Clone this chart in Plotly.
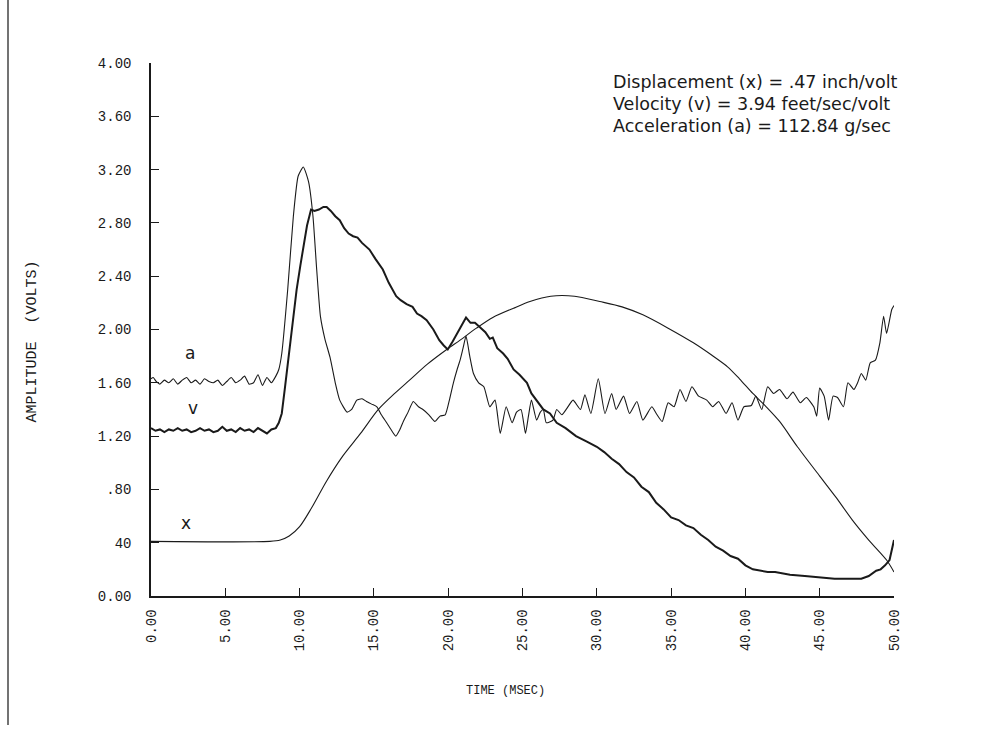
import plotly.graph_objects as go

# ---------------- data ----------------
t_a = [0.0, 0.15, 0.35, 0.6, 0.9, 1.2, 1.5, 1.8, 2.1, 2.4,
       2.7, 3.0, 3.3, 3.6, 3.9, 4.2, 4.5, 4.8, 5.1, 5.4,
       5.7, 6.0, 6.3, 6.6, 6.9, 7.2, 7.5, 7.8, 8.1, 8.4,
       8.6, 8.8, 9.2, 9.58, 9.9, 10.25, 10.6, 10.9, 11.15, 11.4,
       11.7, 12.05, 12.4, 12.7, 13.2, 13.5, 13.85, 14.2, 14.5, 14.85,
       15.2, 15.5, 15.86, 16.2, 16.47, 16.75, 16.98, 17.3, 17.65, 18.0,
       18.3, 18.7, 19.1, 19.45, 19.8, 20.1, 20.35, 20.6, 20.8, 21.0,
       21.2, 21.45, 21.7, 22.05, 22.4, 22.8, 23.15, 23.5, 23.9, 24.3,
       24.6, 24.9, 25.2, 25.4, 25.6, 25.95, 26.2, 26.4, 26.6, 27.05,
       27.3, 27.65, 28.0, 28.4, 28.9, 29.2, 29.6, 30.1, 30.55, 31.0,
       31.3, 31.8, 32.2, 32.7, 33.1, 33.7, 34.0, 34.4, 34.8, 35.2,
       35.6, 36.0, 36.4, 36.85, 37.4, 37.8, 38.2, 38.7, 39.1, 39.5,
       39.9, 40.4, 40.7, 41.1, 41.5, 41.9, 42.3, 42.8, 43.2, 43.7,
       44.1, 44.6, 44.8, 45.0, 45.3, 45.6, 45.9, 46.2, 46.6, 46.9,
       47.3, 47.55, 47.8, 48.1, 48.4, 48.75, 49.05, 49.3, 49.5, 49.85,
       50.0]
a_vals = [1.63, 1.64, 1.61, 1.59, 1.62, 1.60, 1.63, 1.59, 1.62, 1.64,
          1.60, 1.62, 1.59, 1.63, 1.61, 1.60, 1.62, 1.58, 1.61, 1.64,
          1.60, 1.62, 1.65, 1.59, 1.60, 1.66, 1.58, 1.64, 1.60, 1.65,
          1.70, 1.82, 2.30, 2.85, 3.15, 3.22, 3.11, 2.85, 2.45, 2.10,
          1.93, 1.79, 1.60, 1.47, 1.38, 1.40, 1.47, 1.48, 1.46, 1.44,
          1.42, 1.36, 1.30, 1.24, 1.20, 1.25, 1.31, 1.38, 1.46, 1.42,
          1.40, 1.36, 1.31, 1.35, 1.36, 1.48, 1.60, 1.70, 1.77, 1.86,
          1.95, 1.80, 1.67, 1.60, 1.57, 1.42, 1.47, 1.22, 1.42, 1.30,
          1.38, 1.40, 1.22, 1.35, 1.47, 1.32, 1.38, 1.40, 1.30, 1.32,
          1.40, 1.36, 1.41, 1.47, 1.40, 1.51, 1.37, 1.63, 1.37, 1.52,
          1.40, 1.50, 1.37, 1.46, 1.32, 1.42, 1.37, 1.31, 1.45, 1.42,
          1.55, 1.46, 1.57, 1.50, 1.47, 1.42, 1.46, 1.37, 1.45, 1.32,
          1.42, 1.43, 1.50, 1.40, 1.57, 1.52, 1.55, 1.48, 1.53, 1.45,
          1.49, 1.42, 1.35, 1.56, 1.50, 1.32, 1.50, 1.49, 1.42, 1.60,
          1.55, 1.60, 1.67, 1.62, 1.75, 1.77, 1.90, 2.10, 1.97, 2.15,
          2.18]

t_v = [0.0, 0.3, 0.6, 0.9, 1.2, 1.5, 1.8, 2.1, 2.4, 2.7,
       3.0, 3.3, 3.6, 3.9, 4.2, 4.5, 4.8, 5.1, 5.4, 5.7,
       6.0, 6.3, 6.6, 6.9, 7.2, 7.5, 7.8, 8.1, 8.4, 8.6,
       8.8, 9.0, 9.24, 9.5, 9.8, 10.05, 10.25, 10.5, 10.77, 11.0,
       11.3, 11.6, 11.82, 12.1, 12.4, 12.7, 13.0, 13.3, 13.6, 13.9,
       14.2, 14.7, 15.1, 15.6, 16.0, 16.5, 16.8, 17.2, 17.6, 17.9,
       18.2, 18.55, 19.0, 19.4, 19.7, 19.97, 20.3, 20.6, 20.9, 21.2,
       21.5, 21.8, 22.1, 22.5, 22.8, 23.0, 23.3, 23.7, 24.0, 24.4,
       24.8, 25.3, 25.6, 25.95, 26.4, 26.85, 27.3, 27.9, 28.6, 29.3,
       30.0, 30.5, 31.0, 31.5, 32.0, 32.5, 33.0, 33.5, 34.0, 34.5,
       35.0, 35.5, 36.0, 36.5, 37.0, 37.5, 38.0, 38.5, 39.0, 39.5,
       40.0, 40.5, 41.0, 41.5, 42.0, 43.0, 44.0, 45.0, 46.0, 47.0,
       47.8, 48.3, 48.8, 49.1, 49.4, 49.7, 49.85, 50.0]
v_vals = [1.26, 1.24, 1.25, 1.23, 1.25, 1.24, 1.26, 1.24, 1.25, 1.23,
          1.24, 1.26, 1.24, 1.25, 1.23, 1.24, 1.27, 1.24, 1.25, 1.23,
          1.26, 1.24, 1.25, 1.23, 1.26, 1.24, 1.22, 1.25, 1.26, 1.30,
          1.37, 1.55, 1.77, 2.05, 2.30, 2.48, 2.60, 2.78, 2.90, 2.89,
          2.90, 2.92, 2.92, 2.89, 2.85, 2.82, 2.76, 2.72, 2.70, 2.69,
          2.65, 2.60, 2.53, 2.45, 2.35, 2.25, 2.22, 2.19, 2.17, 2.12,
          2.10, 2.07, 2.00, 1.92, 1.88, 1.85, 1.91, 1.97, 2.03, 2.09,
          2.05, 2.05, 2.02, 1.98, 1.93, 1.94, 1.86, 1.82, 1.78, 1.70,
          1.66, 1.60, 1.52, 1.47, 1.40, 1.37, 1.30, 1.26, 1.20, 1.16,
          1.12, 1.08, 1.03, 0.99, 0.93, 0.89, 0.82, 0.78, 0.70, 0.65,
          0.59, 0.57, 0.53, 0.51, 0.46, 0.42, 0.37, 0.34, 0.30, 0.28,
          0.23, 0.20, 0.19, 0.18, 0.18, 0.16, 0.15, 0.14, 0.13, 0.13,
          0.13, 0.15, 0.19, 0.20, 0.23, 0.27, 0.34, 0.42]

t_x = [0.0, 8.0, 8.7, 9.3, 10.0, 10.8, 11.8, 12.9, 14.1, 15.3,
       16.4, 17.4, 18.6, 19.9, 20.8, 21.9, 23.0, 24.4, 25.5, 26.9,
       28.5, 30.2, 31.7, 33.1, 34.8, 36.5, 37.7, 38.8, 39.6, 40.5,
       41.4, 42.3, 43.5, 45.0, 46.1, 47.2, 48.3, 49.5, 50.0]
x_vals = [0.41, 0.41, 0.42, 0.45, 0.52, 0.66, 0.86, 1.05, 1.22, 1.40,
          1.52, 1.62, 1.74, 1.85, 1.92, 2.01, 2.09, 2.16, 2.21, 2.25,
          2.25, 2.21, 2.17, 2.11, 2.01, 1.90, 1.81, 1.72, 1.63, 1.52,
          1.42, 1.31, 1.12, 0.90, 0.74, 0.57, 0.42, 0.27, 0.18]

y_ticks = [0.0, 0.4, 0.8, 1.2, 1.6, 2.0, 2.4, 2.8, 3.2, 3.6, 4.0]
y_ticktext = ["0.00", "40", ".80", "1.20", "1.60", "2.00", "2.40", "2.80", "3.20", "3.60", "4.00"]
x_ticks = [0, 5, 10, 15, 20, 25, 30, 35, 40, 45, 50]
x_ticktext = ["0.00", "5.00", "10.00", "15.00", "20.00", "25.00", "30.00", "35.00", "40.00", "45.00", "50.00"]

curve_labels = ["a", "v", "x"]
label_t = [2.62, 2.83, 2.36]
label_v = [1.82, 1.41, 0.55]

info_lines = ["Displacement (x) = .47 inch/volt",
              "Velocity (v) = 3.94 feet/sec/volt",
              "Acceleration (a) = 112.84 g/sec"]

# ---------------- figure ----------------
INK = "#1a1a1a"
W, H = 981, 740
L, R, T, B = 151, 87, 63, 144
pw, ph = W - L - R, H - T - B

def px_x(px):
    return (px - L) / pw

def px_y(py):
    return (H - B - py) / ph

fig = go.Figure()
fig.add_trace(go.Scatter(x=t_x, y=x_vals, mode="lines", name="x",
                         line=dict(color=INK, width=1.1, shape="spline", smoothing=0.8)))
fig.add_trace(go.Scatter(x=t_a, y=a_vals, mode="lines", name="a",
                         line=dict(color=INK, width=1.1, shape="spline", smoothing=0.5)))
fig.add_trace(go.Scatter(x=t_v, y=v_vals, mode="lines", name="v",
                         line=dict(color=INK, width=2.0)))

mono = "Liberation Mono"
sans = "DejaVu Sans"

annotations = []
for lab, tx, vy in zip(curve_labels, label_t, label_v):
    annotations.append(dict(x=tx, y=vy, xref="x", yref="y", text=lab, showarrow=False,
                            font=dict(family=sans, size=17, color=INK)))
for i, line in enumerate(info_lines):
    annotations.append(dict(x=px_x(611), y=px_y(82 + 22 * i), xref="paper", yref="paper",
                            text=line, showarrow=False, xanchor="left", yanchor="middle",
                            font=dict(family=sans, size=17.5, color=INK)))
annotations.append(dict(x=px_x(21), y=px_y(342), xref="paper", yref="paper",
                        text="AMPLITUDE  (VOLTS)", textangle=-90, showarrow=False,
                        font=dict(family=mono, size=15, color=INK)))
annotations.append(dict(x=px_x(505), y=px_y(700), xref="paper", yref="paper",
                        text="TIME (MSEC)", showarrow=False,
                        font=dict(family=mono, size=12, color=INK)))

fig.update_layout(
    width=W, height=H, autosize=False,
    margin=dict(l=L, r=R, t=T, b=B, pad=0),
    paper_bgcolor="white", plot_bgcolor="white",
    showlegend=False,
    annotations=annotations,
    shapes=[dict(type="line", xref="paper", yref="paper",
                 x0=px_x(8), x1=px_x(8), y0=px_y(725), y1=px_y(0),
                 line=dict(color="#444", width=1.5))],
    xaxis=dict(range=[0, 50], showgrid=False, zeroline=False, showline=True,
               linecolor=INK, linewidth=1.5, ticks="inside", ticklen=8, tickwidth=1.2,
               tickcolor=INK, tickvals=x_ticks, ticktext=x_ticktext, tickangle=-90,
               ticklabelstandoff=6,
               tickfont=dict(family=mono, size=14, color=INK)),
    yaxis=dict(range=[0, 4], showgrid=False, zeroline=False, showline=True,
               linecolor=INK, linewidth=1.5, ticks="inside", ticklen=8, tickwidth=1.2,
               tickcolor=INK, tickvals=y_ticks, ticktext=y_ticktext,
               ticklabelstandoff=15,
               tickfont=dict(family=mono, size=14, color=INK)),
)

fig.write_html("out.html")
